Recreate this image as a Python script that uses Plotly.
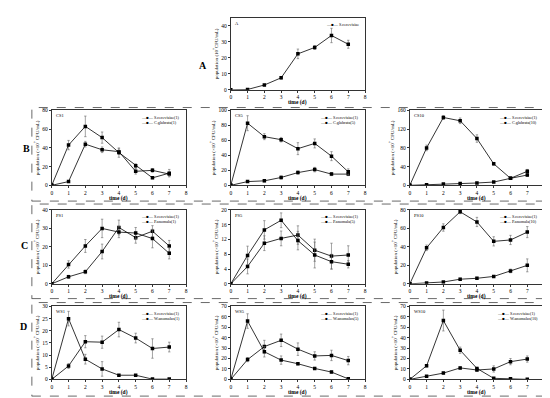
import plotly.graph_objects as go

W, H = 550, 398
days = [0, 1, 2, 3, 4, 5, 6, 7]

# Panel A
A_sc = [0, 0.2, 3, 7.5, 22.5, 26.5, 34, 28.5]
A_sc_err = [0, 0.3, 0.5, 0.8, 3, 1.2, 4.5, 2.5]

# Row B
CS1_sc = [0, 4, 44, 38, 36, 15, 16, 12]
CS1_sc_err = [0, 1, 3, 3, 3, 3, 2, 2]
CS1_cg = [0, 43, 63, 51, 35, 21, 8, 13]
CS1_cg_err = [0, 5, 11, 6, 5, 2, 1, 4]
CS5_sc = [0, 5, 6, 10.5, 17, 21, 15, 15]
CS5_sc_err = [0, 1, 1.5, 2, 2, 3, 2, 2]
CS5_cg = [0, 83, 65, 61, 49, 56, 39, 18]
CS5_cg_err = [0, 10, 4, 3, 8, 6, 6, 4]
CS10_sc = [0, 1, 3, 4, 5, 7, 15, 30]
CS10_sc_err = [0, 0.5, 1, 1, 1, 1, 2, 4]
CS10_cg = [0, 80, 145, 138, 100, 46, 15, 22]
CS10_cg_err = [0, 6, 4, 6, 8, 3, 2, 3]

# Row C
PS1_sc = [0, 3.8, 6.5, 17.5, 30.5, 25, 28.5, 20.5]
PS1_sc_err = [0, 0.8, 1, 4, 4, 3, 3, 3]
PS1_pa = [0, 10.5, 20.5, 30, 28, 27.5, 24.5, 16.5]
PS1_pa_err = [0, 2, 3.5, 5, 3, 3, 5, 3]
PS5_sc = [0, 4.7, 11, 12.3, 13.2, 9.1, 7.5, 7.8]
PS5_sc_err = [0, 2, 2, 2, 2.5, 3, 3.5, 2.5]
PS5_pa = [0, 7.7, 14.6, 17.2, 11.7, 7.8, 6, 5.3]
PS5_pa_err = [0, 2.5, 2.5, 2, 2.5, 3.5, 2, 1]
PS10_sc = [0, 1, 2, 5, 6, 8, 14, 20]
PS10_sc_err = [0, 0.5, 0.5, 1, 1, 1, 2, 7]
PS10_pa = [0, 39, 61, 78, 67, 46, 47.5, 56]
PS10_pa_err = [0, 3, 4, 2, 5, 5, 5, 6]

# Row D
WS1_sc = [0, 5.5, 15.5, 15.3, 20.5, 17, 12.7, 13.3]
WS1_sc_err = [0, 1, 2.5, 2.5, 3, 2, 4, 2]
WS1_wa = [0, 25, 8.3, 4.3, 1.7, 1.7, 0.1, 0.1]
WS1_wa_err = [0, 3, 2, 3, 0.3, 0.3, 0.1, 0.1]
WS5_sc = [0, 19, 31.5, 37.5, 29, 22.5, 23, 18]
WS5_sc_err = [0, 2, 6, 6, 6, 4, 5, 4]
WS5_wa = [0, 56, 26.5, 18.5, 15, 10.5, 7, 0.5]
WS5_wa_err = [0, 7, 5, 4, 1, 1, 1, 0.3]
WS10_sc = [0, 3, 6, 11, 9, 10, 17, 19.5]
WS10_sc_err = [0, 0.5, 1, 1, 1, 3, 3, 3]
WS10_wa = [0, 13, 56.5, 28, 10.5, 1, 0.5, 0]
WS10_wa_err = [0, 1, 10, 3, 1, 0.3, 0.2, 0]

x_ticks = [0, 1, 2, 3, 4, 5, 6, 7, 8]

FONT = "Liberation Serif"

cols = [(43, 178), (223, 358), (403, 538)]
rowsy = {"B": (101, 177), "C": (202, 277), "D": (300, 374)}
yt_main = "population (\u00d710<sup>7</sup> CFU/mL)"

panels = [
    ("A", 223, 358, 7, 80, 45, 10,
     [(A_sc, A_sc_err, "S.cerevisiae")], "population (10<sup>7</sup>CFU/mL)"),
    ("CS1", *cols[0], *rowsy["B"], 80, 20,
     [(CS1_sc, CS1_sc_err, "S.cerevisiae(1)"), (CS1_cg, CS1_cg_err, "C.glabrata(1)")], yt_main),
    ("CS5", *cols[1], *rowsy["B"], 100, 20,
     [(CS5_sc, CS5_sc_err, "S.cerevisiae(1)"), (CS5_cg, CS5_cg_err, "C.glabrata(5)")], yt_main),
    ("CS10", *cols[2], *rowsy["B"], 160, 40,
     [(CS10_sc, CS10_sc_err, "S.cerevisiae(1)"), (CS10_cg, CS10_cg_err, "C.glabrata(10)")], yt_main),
    ("PS1", *cols[0], *rowsy["C"], 40, 10,
     [(PS1_sc, PS1_sc_err, "S.cerevisiae(1)"), (PS1_pa, PS1_pa_err, "P.anomala(1)")], yt_main),
    ("PS5", *cols[1], *rowsy["C"], 20, 4,
     [(PS5_sc, PS5_sc_err, "S.cerevisiae(1)"), (PS5_pa, PS5_pa_err, "P.anomala(5)")], yt_main),
    ("PS10", *cols[2], *rowsy["C"], 80, 20,
     [(PS10_sc, PS10_sc_err, "S.cerevisiae(1)"), (PS10_pa, PS10_pa_err, "P.anomala(10)")], yt_main),
    ("WS1", *cols[0], *rowsy["D"], 30, 5,
     [(WS1_sc, WS1_sc_err, "S.cerevisiae(1)"), (WS1_wa, WS1_wa_err, "W.anomalus(1)")], yt_main),
    ("WS5", *cols[1], *rowsy["D"], 70, 10,
     [(WS5_sc, WS5_sc_err, "S.cerevisiae(1)"), (WS5_wa, WS5_wa_err, "W.anomalus(5)")], yt_main),
    ("WS10", *cols[2], *rowsy["D"], 70, 10,
     [(WS10_sc, WS10_sc_err, "S.cerevisiae(1)"), (WS10_wa, WS10_wa_err, "W.anomalus(10)")], yt_main),
]

fig = go.Figure()
annotations = []
layout_axes = {}

for i, (lab, l, r, t, b, ymax, dt, series, ytitle) in enumerate(panels):
    n = "" if i == 0 else str(i + 1)
    xa, ya = "x" + n, "y" + n
    for vals, errs, name in series:
        fig.add_trace(go.Scatter(
            x=days, y=vals, name=name, mode="lines+markers",
            xaxis=xa, yaxis=ya, showlegend=False,
            line=dict(color="black", width=0.8),
            marker=dict(symbol="square", size=3.5, color="black"),
            error_y=dict(type="data", array=errs, color="#666", thickness=0.6, width=1.2),
        ))
    common = dict(showline=True, linecolor="#333", linewidth=0.7, mirror=True,
                  ticks="outside", ticklen=2, tickwidth=0.6, tickcolor="#333",
                  showgrid=False, zeroline=False,
                  tickfont=dict(family=FONT, size=5.5, color="black"))
    layout_axes["xaxis" + n] = dict(common, domain=[l / W, r / W], range=[0, 8],
                                    tickvals=x_ticks, anchor=ya)
    layout_axes["yaxis" + n] = dict(common, domain=[1 - b / H, 1 - t / H], range=[0, ymax],
                                    dtick=dt, anchor=xa,
                                    title=dict(text=ytitle, standoff=2,
                                               font=dict(family=FONT, size=5, color="black")))
    annotations.append(dict(text="<b>time (d)</b>", xref="paper", yref="paper",
                            x=(l + r) / 2 / W, y=1 - (b + 13) / H, showarrow=False,
                            font=dict(family=FONT, size=5.5, color="black"),
                            xanchor="center", yanchor="middle"))
    annotations.append(dict(text=lab, xref=xa + " domain", yref=ya + " domain",
                            x=0.02, y=0.99, showarrow=False, xanchor="left", yanchor="top",
                            font=dict(family=FONT, size=4.5, color="black")))
    leg = "<br>".join("\u2014\u25a0\u2014 " + s[2] for s in series)
    annotations.append(dict(text=leg, xref=xa + " domain", yref=ya + " domain",
                            x=0.97, y=0.97, showarrow=False, xanchor="right", yanchor="top",
                            align="left",
                            font=dict(family=FONT, size=4.2, color="black")))

for letter, px, py in [("A", 195, 48), ("B", 12, 140), ("C", 10, 238), ("D", 9, 328)]:
    annotations.append(dict(text="<b>" + letter + "</b>", xref="paper", yref="paper",
                            x=px / W, y=1 - py / H, showarrow=False,
                            font=dict(family=FONT, size=10, color="black")))

shapes = []
for t, b in [(98, 193), (196, 292), (296, 391)]:
    shapes.append(dict(type="rect", xref="paper", yref="paper",
                       x0=23 / W, x1=545 / W, y0=1 - b / H, y1=1 - t / H,
                       line=dict(color="#444", width=0.8, dash="dash")))

fig.update_layout(
    width=W, height=H, margin=dict(l=0, r=0, t=0, b=0),
    paper_bgcolor="white", plot_bgcolor="white",
    annotations=annotations, shapes=shapes, showlegend=False,
    **layout_axes,
)

fig.write_html("out.html")
